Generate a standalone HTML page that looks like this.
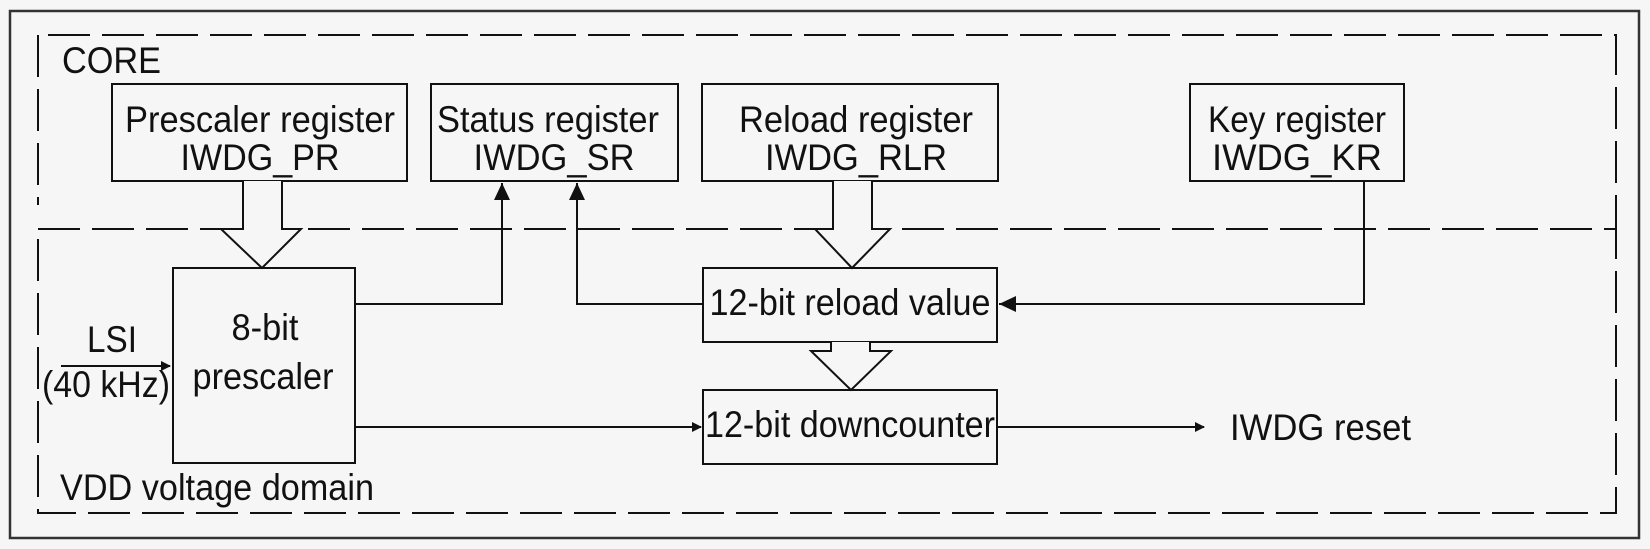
<!DOCTYPE html>
<html><head><meta charset="utf-8"><style>
html,body{margin:0;padding:0;background:#f6f6f6;}
svg{display:block;}
text{font-family:"Liberation Sans",sans-serif;fill:#111;}
</style></head><body>
<svg width="1650" height="549" viewBox="0 0 1650 549" xmlns="http://www.w3.org/2000/svg">
<defs>
<marker id="ah" markerWidth="10" markerHeight="10" refX="9" refY="5" orient="auto" markerUnits="userSpaceOnUse">
<path d="M0,0 L10,5 L0,10 z" fill="#111"/></marker>
<marker id="ahb" markerWidth="18" markerHeight="18" refX="17" refY="9" orient="auto" markerUnits="userSpaceOnUse">
<path d="M0,1 L17,9 L0,17 z" fill="#111"/></marker>
</defs>
<rect x="10" y="11" width="1629" height="527" fill="none" stroke="#333" stroke-width="2.5"/>
<g fill="none" stroke="#111" stroke-width="2" stroke-dasharray="42,12">
<path d="M48,35 H1616 V229"/>
<path d="M38,35 V205"/>
<path d="M38,229 H1616 V513 H38 Z"/>
</g>
<g font-size="37" lengthAdjust="spacingAndGlyphs">
<text x="62" y="73" textLength="99" lengthAdjust="spacingAndGlyphs">CORE</text>
<text x="60" y="500" textLength="314" lengthAdjust="spacingAndGlyphs">VDD voltage domain</text>
</g>
<g fill="#f6f6f6" stroke="#111" stroke-width="2">
<rect x="112" y="84" width="295" height="97"/>
<rect x="431" y="84" width="247" height="97"/>
<rect x="702" y="84" width="296" height="97"/>
<rect x="1190" y="84" width="214" height="97"/>
<rect x="173" y="268" width="182" height="195"/>
<rect x="703" y="268" width="294" height="74"/>
<rect x="703" y="390" width="294" height="74"/>
</g>
<g font-size="37" text-anchor="middle">
<text x="260" y="132" textLength="270" lengthAdjust="spacingAndGlyphs">Prescaler register</text>
<text x="260" y="170" textLength="159" lengthAdjust="spacingAndGlyphs">IWDG_PR</text>
<text x="548" y="132" textLength="222" lengthAdjust="spacingAndGlyphs">Status register</text>
<text x="554" y="170" textLength="161" lengthAdjust="spacingAndGlyphs">IWDG_SR</text>
<text x="856" y="132" textLength="234" lengthAdjust="spacingAndGlyphs">Reload register</text>
<text x="856" y="170" textLength="182" lengthAdjust="spacingAndGlyphs">IWDG_RLR</text>
<text x="1297" y="132" textLength="178" lengthAdjust="spacingAndGlyphs">Key register</text>
<text x="1297" y="170" textLength="170" lengthAdjust="spacingAndGlyphs">IWDG_KR</text>
<text x="265" y="340" textLength="67" lengthAdjust="spacingAndGlyphs">8-bit</text>
<text x="263" y="389" textLength="141" lengthAdjust="spacingAndGlyphs">prescaler</text>
<text x="850" y="315" textLength="281" lengthAdjust="spacingAndGlyphs">12-bit reload value</text>
<text x="850" y="437" textLength="290" lengthAdjust="spacingAndGlyphs">12-bit downcounter</text>
<text x="112" y="352" textLength="50" lengthAdjust="spacingAndGlyphs">LSI</text>
<text x="106" y="397" textLength="128" lengthAdjust="spacingAndGlyphs">(40 kHz)</text>
</g>
<text x="1230" y="440" font-size="37" textLength="181" lengthAdjust="spacingAndGlyphs">IWDG reset</text>
<g fill="#f6f6f6" stroke="#111" stroke-width="2">
<path d="M243,181 V229 H221 L262,268 L301,229 H282 V181"/>
<path d="M833,181 V229 H815 L852,268 L890,229 H872 V181"/>
<path d="M831,342 V351 H811 L851,390 L891,351 H870 V342"/>
</g>
<g fill="none" stroke="#111" stroke-width="2">
<path d="M355,304 H502 V183" marker-end="url(#ahb)"/>
<path d="M703,304 H577 V183" marker-end="url(#ahb)"/>
<path d="M1364,181 V304 H999" marker-end="url(#ahb)"/>
<path d="M355,427 H701" marker-end="url(#ah)"/>
<path d="M997,427 H1204" marker-end="url(#ah)"/>
<path d="M61,366 H170" marker-end="url(#ah)"/>
</g>
</svg>
</body></html>
